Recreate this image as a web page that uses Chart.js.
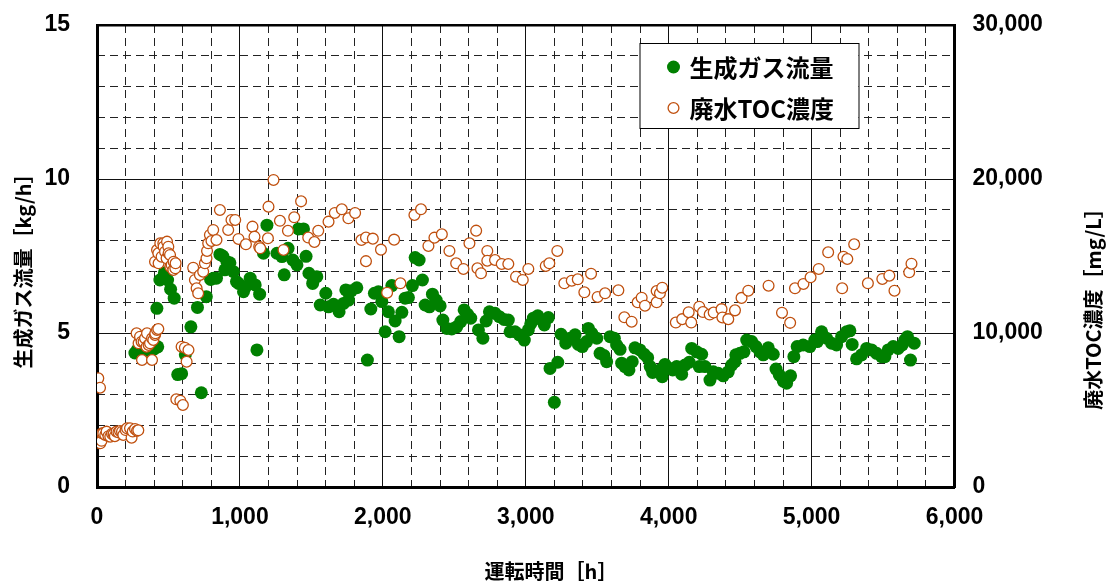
<!DOCTYPE html>
<html>
<head>
<meta charset="utf-8">
<script src="https://cdn.jsdelivr.net/npm/chart.js@4/dist/chart.umd.min.js"></script>
<style>
  html, body { margin: 0; padding: 0; background: #fff; }
  #wrap { width: 1106px; height: 581px; }
</style>
</head>
<body>
<div id="wrap"><canvas id="c" width="1106" height="581"></canvas></div>
<script>
// Operating hours and generated gas flow [kg/h]
const gasHours = [
  265, 282, 300, 318, 336, 352, 370, 388, 405, 419, 425, 440, 471, 494, 515, 540,
  565, 592, 618, 657, 703, 730, 765, 795, 815, 836, 860, 880, 895, 909, 930, 955,
  976, 990, 1025, 1040, 1072, 1107, 1119, 1138, 1165, 1189, 1259, 1294, 1310, 1337,
  1370, 1399, 1410, 1445, 1463, 1483, 1509, 1515, 1538, 1562, 1601, 1620, 1655, 1694,
  1725, 1741, 1760, 1779, 1818, 1892, 1916, 1941, 1969, 1993, 2016, 2039, 2063, 2086,
  2114, 2133, 2156, 2179, 2207, 2226, 2254, 2277, 2296, 2326, 2347, 2373, 2401, 2420,
  2448, 2482, 2517, 2545, 2569, 2592, 2615, 2669, 2700, 2723, 2746, 2785, 2815, 2848,
  2878, 2890, 2925, 2955, 2990, 3018, 3035, 3053, 3084, 3112, 3130, 3158, 3170, 3200,
  3224, 3247, 3280, 3310, 3345, 3368, 3396, 3426, 3438, 3462, 3497, 3520, 3548, 3566,
  3590, 3620, 3636, 3660, 3671, 3694, 3722, 3745, 3764, 3799, 3829, 3853, 3871, 3888,
  3939, 3955, 3974, 4009, 4028, 4056, 4091, 4114, 4144, 4161, 4196, 4214, 4231, 4254,
  4289, 4312, 4347, 4382, 4417, 4441, 4464, 4470, 4499, 4527, 4546, 4581, 4611, 4639,
  4662, 4697, 4732, 4751, 4774, 4802, 4825, 4853, 4876, 4899, 4941, 4988, 5023, 5040,
  5070, 5105, 5140, 5175, 5210, 5245, 5268, 5284, 5315, 5350, 5385, 5420, 5455, 5490,
  5513, 5536, 5571, 5606, 5634, 5652, 5671, 5692, 5718
];
const gasFlow = [
  4.35, 4.45, 4.40, 4.50, 4.45, 4.40, 4.50, 4.45, 4.50, 5.80, 4.55, 6.72, 6.95, 6.72, 6.42, 6.13,
  3.65, 3.68, 4.29, 5.20, 5.83, 3.06, 6.18, 6.74, 6.78, 6.78, 7.55, 7.50, 7.05, 7.31, 7.28, 6.99,
  6.67, 6.61, 6.34, 6.50, 6.78, 6.56, 4.45, 6.26, 7.59, 8.50, 7.59, 7.48, 6.89, 7.75,
  7.37, 7.21, 8.38, 8.38, 7.49, 6.94, 6.61, 6.78, 6.83, 5.91, 6.29, 5.85, 5.93, 5.69,
  5.96, 6.40, 6.07, 6.37, 6.47, 4.12, 5.78, 6.29, 6.34, 6.02, 5.04, 5.69, 6.54, 5.39,
  4.88, 5.67, 6.13, 6.15, 6.54, 7.45, 7.37, 6.72, 5.91, 5.85, 6.26, 6.07, 5.88, 5.42,
  5.15, 5.13, 5.20, 5.37, 5.75, 5.61, 5.48, 5.10, 4.83, 5.39, 5.69, 5.64, 5.53, 5.44,
  5.42, 5.04, 5.04, 4.94, 4.77, 5.10, 5.30, 5.48, 5.56, 5.42, 5.26, 5.50, 3.85, 2.75,
  4.05, 4.96, 4.67, 4.83, 4.94, 4.63, 4.56, 4.72, 5.15, 4.99, 4.83, 4.34, 4.27, 4.07,
  4.88, 4.83, 4.61, 4.47, 4.02, 3.91, 3.80, 4.07, 4.52, 4.45, 4.31, 4.20, 3.91, 3.72,
  3.80, 3.58, 3.98, 3.85, 3.80, 3.91, 3.66, 3.96, 4.05, 4.50, 4.39, 3.91, 4.31, 3.91,
  3.47, 3.74, 3.69, 3.61, 3.74, 3.96, 4.07, 4.29, 4.34, 4.39, 4.77, 4.72, 4.56, 4.39,
  4.29, 4.52, 4.31, 3.83, 3.64, 3.44, 3.37, 3.61, 4.23, 4.56, 4.61, 4.56, 4.77, 4.72,
  5.04, 4.83, 4.67, 4.61, 4.88, 5.04, 5.07, 4.63, 4.16, 4.29, 4.50, 4.45, 4.34, 4.23,
  4.23, 4.45, 4.56, 4.50, 4.61, 4.77, 4.88, 4.12, 4.67
];

// Operating hours and wastewater TOC concentration [mg/L]
const tocHours = [
  9, 21, 23, 32, 35, 44, 58, 67, 80, 93, 105, 116, 125, 137, 150, 161, 175, 184, 200, 210,
  231, 242, 250, 266, 280, 289, 277, 291, 301, 312, 315, 326, 336, 347, 350, 361, 371, 385,
  385, 394, 406, 408, 420, 429, 406, 420, 429, 431, 443, 452, 464, 466, 476, 487, 490, 499,
  501, 511, 513, 522, 534, 536, 548, 550, 555, 583, 601, 592, 615, 627, 640, 673, 685, 697,
  708, 720, 743, 755, 766, 770, 778, 790, 801, 813, 836, 860, 918, 941, 967, 990, 1042, 1088,
  1102, 1135, 1142, 1196, 1200, 1235, 1280, 1305, 1336, 1380, 1428, 1478, 1521, 1548, 1620,
  1664, 1713, 1759, 1806, 1850, 1882, 1882, 1930, 1987, 2030, 2079, 2123, 2221, 2267, 2319,
  2361, 2413, 2466, 2513, 2564, 2606, 2653, 2662, 2687, 2731, 2731, 2785, 2832, 2878, 2932,
  2979, 3018, 3140, 3165, 3221, 3270, 3322, 3364, 3410, 3457, 3503, 3555, 3648, 3690, 3741,
  3783, 3811, 3834, 3916, 3916, 3939, 3955, 4050, 4095, 4140, 4158, 4214, 4240, 4287, 4315,
  4370, 4376, 4417, 4464, 4510, 4557, 4699, 4793, 4850, 4884, 4943, 4993, 5050, 5116, 5214,
  5223, 5250, 5298, 5394, 5495, 5544, 5580, 5683, 5699
];
const tocValues = [
  7059, 6449, 2838, 3000, 3487, 3487, 3377, 3595, 3300, 3267, 3450, 3442, 3300, 3595, 3550, 3637, 3591, 3377, 3700, 3812,
  3810, 3202, 3600, 3767, 3656, 3680, 9981, 9332, 9761, 9436, 8247, 9436, 9656, 9111, 9981, 9221, 9332, 8247,
  9656, 9546, 9871, 9981, 10196, 10260, 14631, 15390, 15176, 14527, 15826, 14956, 15826, 15605, 15280, 14852, 15931, 15605,
  15176, 15066, 14306, 14417, 14092, 14631, 14202, 14527, 5695, 5604, 5325, 9111, 9046, 8137, 8897, 14241, 13443, 12903,
  12579, 13768, 13981, 14527, 14852, 15326, 15826, 16365, 15975, 16690, 16040, 17988, 16690, 17339, 17339, 16105, 15761, 16905,
  16255, 15605, 15501, 16150, 18203, 19937, 17285, 15391, 16635, 17512, 18550, 16200, 15910, 16635, 17230,
  17795, 18034, 17450, 17795, 16040, 16200, 14664, 16127, 15413, 12618, 16062, 13229, 17663, 18034, 15651,
  16190, 16410, 15326, 14527, 14157, 15826, 16645, 14202, 13878, 15326, 14696, 14741, 14481, 14481, 13657,
  13443, 14157, 14352, 14527, 15326, 13229, 13397, 13488, 12644, 13852, 12339, 12579, 12774, 11021, 10734,
  11994, 12293, 11773, 11994, 12728, 12579, 12943, 10680, 10900, 11350, 10680, 11709, 11360, 11200, 11330,
  11550, 11010, 10900, 11470, 12280, 12748, 13073, 11319, 10660, 12903, 13183, 13618, 14157, 15240, 12903,
  14956, 14806, 15761, 13229, 13508, 13723, 12748, 13943, 14501
];

// Axis ranges and labels
const hourRange = [0, 6000];
const hourStep = 1000;
const hourMinorStep = 200;
const gasRange = [0, 15];
const gasStep = 5;
const gasMinorStep = 1;
const tocRange = [0, 30000];
const tocStep = 10000;

const seriesNames = ['生成ガス流量', '廃水TOC濃度'];
const xTitle = '運転時間［h］';
const yTitle = '生成ガス流量［kg/h］';
const y1Title = '廃水TOC濃度［mg/L］';

const gasColor = '#008000';
const tocColor = '#c0500f';

const toPoints = (xs, ys) => xs.map((x, i) => ({ x: x, y: ys[i] }));
const fmt = v => Number(v).toLocaleString('en-US');
const tickFont = { family: '"Liberation Sans", Arial, sans-serif', size: 23, weight: 'bold' };
const cjkBold = '"Noto Sans CJK JP", "Noto Sans", sans-serif';

// Vertical scales: fixed width, no extra label padding above/below the plot
const fixWidth = w => s => { s.width = w; s.paddingTop = 0; s.paddingBottom = 0; };

// Axis titles: x centred under the plot, both y titles read bottom-to-top
const axisTitles = {
  id: 'axisTitles',
  afterDraw(chart) {
    const ctx = chart.ctx, a = chart.chartArea;
    ctx.save();
    ctx.fillStyle = '#000';
    ctx.font = 'bold 20px ' + cjkBold;
    ctx.textAlign = 'center';
    ctx.textBaseline = 'middle';
    ctx.fillText(xTitle, a.left + 454, a.bottom + 84);
    const vert = (text, x, y) => {
      ctx.save();
      ctx.translate(x, y);
      ctx.rotate(-Math.PI / 2);
      ctx.fillText(text, 0, 0);
      ctx.restore();
    };
    vert(yTitle, 23, a.top + 241);
    vert(y1Title, a.right + 138.5, a.top + 279);
    ctx.restore();
  }
};

// Boxed legend in the upper right of the plot
const boxLegend = {
  id: 'boxLegend',
  afterDatasetsDraw(chart) {
    const ctx = chart.ctx, a = chart.chartArea;
    const left = a.left + 542.5, top = a.top + 18, w = 219, h = 85;
    ctx.save();
    ctx.fillStyle = '#fff';
    ctx.fillRect(left, top, w, h);
    ctx.strokeStyle = '#000';
    ctx.lineWidth = 1;
    ctx.strokeRect(left + 0.5, top + 0.5, w, h);
    const rows = [top + 24, top + 65];
    chart.data.datasets.forEach((ds) => {
      const cy = rows[ds.legendRow];
      const cx = left + 34;
      ctx.beginPath();
      ctx.arc(cx, cy, ds.pointRadius, 0, Math.PI * 2);
      ctx.fillStyle = ds.backgroundColor;
      ctx.fill();
      if (ds.borderWidth) {
        ctx.lineWidth = ds.borderWidth;
        ctx.strokeStyle = ds.borderColor;
        ctx.stroke();
      }
      ctx.fillStyle = '#000';
      ctx.font = 'bold 24px ' + cjkBold;
      ctx.textAlign = 'left';
      ctx.textBaseline = 'middle';
      ctx.fillText(ds.label, left + 50, cy + 1);
    });
    ctx.restore();
  }
};

new Chart(document.getElementById('c'), {
  type: 'scatter',
  data: {
    datasets: [
      {
        label: seriesNames[1],
        legendRow: 1,
        data: toPoints(tocHours, tocValues),
        yAxisID: 'y1',
        pointRadius: 5.4,
        borderWidth: 1.3,
        borderColor: tocColor,
        backgroundColor: '#ffffff',
        order: 0
      },
      {
        label: seriesNames[0],
        legendRow: 0,
        data: toPoints(gasHours, gasFlow),
        yAxisID: 'y',
        pointRadius: 6.5,
        borderWidth: 0,
        borderColor: gasColor,
        backgroundColor: gasColor,
        order: 1
      }
    ]
  },
  options: {
    responsive: false,
    devicePixelRatio: 1,
    animation: false,
    layout: { padding: { top: 25, left: 0, right: 0, bottom: 0 } },
    plugins: { legend: { display: false }, tooltip: { enabled: false } },
    scales: {
      x: {
        type: 'linear', position: 'bottom', min: hourRange[0], max: hourRange[1],
        ticks: { stepSize: hourStep, padding: 17, color: '#000', font: tickFont,
                 maxRotation: 0, autoSkip: false, callback: v => fmt(v) },
        grid: { color: '#111', lineWidth: 1, drawTicks: false },
        border: { color: '#000', width: 3 },
        afterFit: s => { s.height = 94; }
      },
      xMinor: {
        type: 'linear', position: 'bottom', min: hourRange[0], max: hourRange[1], display: true,
        ticks: { display: false, stepSize: hourMinorStep },
        grid: { drawTicks: false, lineWidth: 1,
                color: c => (c.tick && c.tick.value % hourStep === 0) ? 'rgba(0,0,0,0)' : '#222' },
        border: { display: false, dash: [8, 5] },
        afterFit: s => { s.height = 0; }
      },
      xTop: {
        type: 'linear', position: 'top', min: hourRange[0], max: hourRange[1], display: true,
        ticks: { display: false },
        grid: { display: false, drawTicks: false },
        border: { display: true, color: '#000', width: 2.5 },
        afterFit: s => { s.height = 0; }
      },
      y: {
        type: 'linear', position: 'left', min: gasRange[0], max: gasRange[1],
        ticks: { stepSize: gasStep, padding: 27, color: '#000', font: tickFont, callback: v => fmt(v) },
        grid: { color: '#111', lineWidth: 1, drawTicks: false },
        border: { color: '#000', width: 3 },
        afterFit: fixWidth(97)
      },
      yMinor: {
        type: 'linear', position: 'left', min: gasRange[0], max: gasRange[1], display: true,
        ticks: { display: false, stepSize: gasMinorStep },
        grid: { drawTicks: false, lineWidth: 1,
                color: c => (c.tick && c.tick.value % gasStep === 0) ? 'rgba(0,0,0,0)' : '#222' },
        border: { display: false, dash: [8, 5] },
        afterFit: fixWidth(0)
      },
      y1: {
        type: 'linear', position: 'right', min: tocRange[0], max: tocRange[1],
        ticks: { stepSize: tocStep, padding: 18, color: '#000', font: tickFont, callback: v => fmt(v) },
        grid: { drawOnChartArea: false, drawTicks: false },
        border: { color: '#000', width: 3 },
        afterFit: fixWidth(151.5)
      }
    }
  },
  plugins: [axisTitles, boxLegend]
});
</script>
</body>
</html>
